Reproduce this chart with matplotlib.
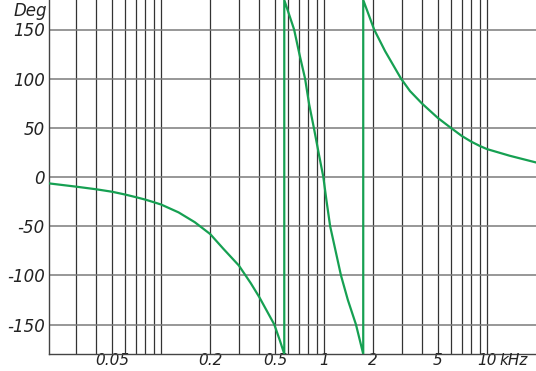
import numpy as np
import matplotlib
matplotlib.use("Agg")
import matplotlib.pyplot as plt
import matplotlib.transforms as mtransforms

# phase response (kHz, degrees), wraps at +-180
freq_b1 = [0.0205, 0.03, 0.04, 0.05, 0.06, 0.07, 0.08, 0.09, 0.1, 0.128, 0.161,
           0.2, 0.241, 0.3, 0.355, 0.4, 0.495, 0.535, 0.57]
deg_b1 = [-6.5, -9.8, -12.5, -15, -17.8, -20.5, -23, -25.6, -28, -36, -46,
          -58, -73, -90, -108, -122, -150, -166, -180]

freq_b2 = [0.57, 0.655, 0.706, 0.765, 0.81, 0.866, 0.93, 0.99, 1.035, 1.09,
           1.27, 1.40, 1.57, 1.74]
deg_b2 = [180, 150, 125, 100, 74, 50, 23, 0, -24, -50, -100, -125, -150, -180]

freq_b3 = [1.74, 2.03, 2.37, 2.97, 3.37, 4, 5, 6, 7, 8, 9, 10, 13.8, 20]
deg_b3 = [180, 150, 128, 100, 87.4, 74.6, 60, 50, 41.8, 36, 31.7, 28.4, 21.6, 14.8]

xticks = [0.05, 0.2, 0.5, 1, 2, 5, 10]
xticklabels = ["0.05", "0.2", "0.5", "1", "2", "5", "10"]
yticks = [-150, -100, -50, 0, 50, 100, 150]

freq = freq_b1 + freq_b2 + freq_b3
deg = deg_b1 + deg_b2 + deg_b3

fig = plt.figure(figsize=(5.36, 3.71), dpi=100)
ax = fig.add_axes([49 / 536, 17 / 371, 1 - 49 / 536, 354 / 371])

# grid lines
vgrid = [m * 10.0 ** e for e in (-2, -1, 0, 1) for m in range(1, 10)]
vgrid = [v for v in vgrid if 0.0205 < v < 20]
for v in vgrid:
    ax.axvline(v, color="#333333", lw=0.9, zorder=1)
for h in yticks:
    ax.axhline(h, color="#7a7a7a", lw=1.1, zorder=1)

ax.plot(freq, deg, color="#16a052", lw=1.6, zorder=3, solid_joinstyle="round")

ax.set_xscale("log")
ax.set_xlim(0.0205, 20)
ax.set_ylim(-180, 180)

font = dict(family="DejaVu Sans", style="italic", size=12, color="#222222")
xfont = dict(font, size=11)
ax.set_xticks(xticks)
ax.set_xticklabels(xticklabels, fontdict=xfont)
ax.xaxis.set_minor_locator(matplotlib.ticker.NullLocator())
ax.set_yticks(yticks)
ax.set_yticklabels([str(v) for v in yticks], fontdict=font)
ax.tick_params(length=0, pad=3)
ax.tick_params(axis="x", pad=-0.5)

ax.text(-0.004, 0.955, "Deg", transform=ax.transAxes, ha="right", va="baseline", **font)
trans = mtransforms.blended_transform_factory(ax.transData, ax.transAxes)
ax.text(11.9, 0.002, "kHz", transform=trans, ha="left", va="top", **xfont)

for s in ("top", "right"):
    ax.spines[s].set_visible(False)
for s in ("left", "bottom"):
    ax.spines[s].set_color("#444444")
    ax.spines[s].set_linewidth(1.0)

fig.savefig("out.png", dpi=100)
